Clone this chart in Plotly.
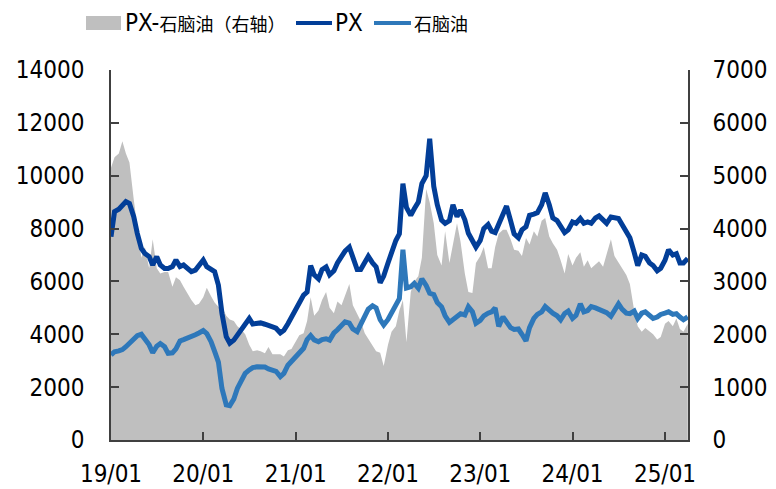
import pandas as pd
import plotly.graph_objects as go

# Semi-monthly observation dates (1st and 15th), Jan 2019 - Apr 2025
dates = pd.date_range("2019-01-01", "2025-04-01", freq="SMS")

# PX price (left axis)
px_price = [
    7690, 8640, 8730, 8850, 9020, 8950, 8450, 7820, 7250, 7060,
    6940, 6620, 6940, 6620, 6490, 6490, 6560, 6810, 6560, 6620,
    6490, 6370, 6430, 6620, 6810, 6560, 6430, 6370, 5860, 4790,
    3910, 3660, 3780, 3970, 4160, 4410, 4600, 4390, 4390, 4430,
    4380, 4330, 4300, 4230, 4050, 4150, 4400, 4650, 5000, 5170,
    5480, 5600, 6600, 6250, 6100, 6450, 6550, 6250, 6400, 6700,
    6950, 7150, 7300, 6900, 6450, 6450, 6700, 6950, 6700, 6550,
    5950, 6200, 6700, 7100, 7550, 7800, 9700, 8800, 8500, 8750,
    9000, 9700, 10000, 11400, 9600, 8900, 8320, 8200, 8300, 8900,
    8450, 8700, 8330, 7820, 7500, 7300, 7550, 8000, 8150, 7900,
    7850, 8150, 8450, 8850, 8300, 7800, 7650, 7950, 8070, 8500,
    8550, 8600, 8900, 9350, 8900, 8400, 8300, 8100, 7850, 7950,
    8250, 8200, 8380, 8200, 8250, 8200, 8400, 8480, 8300, 8200,
    8440, 8390, 8380, 8150, 7880, 7650, 7100, 6600, 7000, 6950,
    6700, 6600, 6400, 6500, 6800, 7200, 7000, 7050, 6700, 6700,
    6870,
]

# Naphtha price (left axis)
naphtha_price = [
    3215, 3340, 3370, 3420, 3530, 3650, 3800, 3950, 4000, 3850,
    3600, 3300, 3550, 3650, 3530, 3280, 3300, 3450, 3750, 3800,
    3850, 3910, 3980, 4050, 4140, 4030, 3720, 3350, 2950, 1950,
    1330, 1300, 1550, 1950, 2250, 2520, 2650, 2740, 2770, 2770,
    2760, 2690, 2660, 2600, 2400, 2520, 2830, 2980, 3150, 3310,
    3470, 3800, 3950, 3790, 3720, 3800, 3830, 3780, 4050, 4170,
    4300, 4470, 4420, 4200, 4100, 4380, 4650, 4950, 5080, 5000,
    4550, 4350, 4560, 4800, 5050, 5350, 7200, 5750, 5800, 5930,
    5750, 6100, 5850, 5550, 5500, 5200, 5040, 4700, 4450, 4550,
    4630, 4780, 4730, 5040, 4850, 4420, 4530, 4700, 4800, 4850,
    5000, 4300, 4660, 4500, 4250, 4180, 4200, 4000, 3750, 4250,
    4600, 4750, 4850, 5050, 4880, 4800, 4700, 4550, 4790, 4880,
    4600, 4720, 5150, 4850, 4900, 5050, 5000, 4950, 4920, 4820,
    4680, 4900, 5150, 4950, 4800, 4780, 4880, 4600, 4800, 4850,
    4680, 4600, 4650, 4750, 4800, 4850, 4750, 4780, 4650, 4550,
    4660,
]

# PX - naphtha spread (right axis)
spread = [
    5150, 5350, 5420, 5650, 5420, 5250, 4550, 4000, 3450, 3650,
    3250, 3800, 3250, 3150, 3180, 3180, 2900, 3080, 3020, 2900,
    2750, 2650, 2550, 2580, 2700, 2880, 2720, 2600, 2520, 2520,
    2350, 2280, 2250, 2150, 2080, 2000, 1800, 1680, 1700, 1680,
    1640, 1760, 1620, 1620, 1620, 1580, 1700, 1720, 1850, 1980,
    2020, 2250, 2700, 2350, 2450, 2650, 2800, 2500, 2400, 2620,
    2550, 2750, 2950, 2550, 2400, 2250, 2020, 1920, 1800, 1680,
    1650, 1400, 1800, 2050, 2150, 2450, 2650, 1850, 2800, 3000,
    3100, 3450, 4750, 4500, 4100, 3500, 3300, 3950, 3350, 3720,
    4100, 3750, 3150, 2800, 2780, 3350, 3480, 3650, 3250, 3250,
    3650, 3900, 3980, 3980, 3800, 3600, 3580, 3480, 3820, 3700,
    3950, 3850, 4150, 4200, 3850, 3720, 3600, 3400, 3150, 3520,
    3300, 3450, 3550, 3280, 3400, 3250, 3320, 3380, 3280, 3500,
    3800, 3480, 3350, 3250, 3120, 2950, 2450, 2150, 2050, 2120,
    2050, 2000, 1900, 1950, 2200, 2250, 2150, 2300, 2100, 2050,
    2200,
]

legend_names = ["PX-石脑油（右轴）", "PX", "石脑油"]

GRAY = "#BFBFBF"
DARK_BLUE = "#023E98"
LIGHT_BLUE = "#2E78BA"
AXIS = "#404040"
FONT = "DejaVu Sans Condensed, DejaVu Sans, Liberation Sans, sans-serif"
CJK = "Noto Sans CJK SC"

fig = go.Figure()
# Spread area sits on the base (right-hand) axis so the price lines,
# on the overlaying left axis, are drawn above it.
fig.add_trace(go.Scatter(
    x=dates, y=spread, yaxis="y", mode="lines", fill="tozeroy",
    line=dict(width=0, color=GRAY), fillcolor=GRAY, showlegend=False,
    name=legend_names[0],
))
fig.add_trace(go.Scatter(
    x=dates, y=naphtha_price, yaxis="y2", mode="lines",
    line=dict(width=5, color=LIGHT_BLUE), showlegend=False,
    name=legend_names[2],
))
fig.add_trace(go.Scatter(
    x=dates, y=px_price, yaxis="y2", mode="lines",
    line=dict(width=5, color=DARK_BLUE), showlegend=False,
    name=legend_names[1],
))

# Legend drawn along the top (pixel positions converted to paper units)
L, R, T, B = 111, 688, 70, 440
W, H = R - L, B - T


def px_x(p):
    return (p - L) / W


def px_y(p):
    return (B - p) / H


shapes = [
    dict(type="rect", xref="paper", yref="paper",
         x0=px_x(86), x1=px_x(121), y0=px_y(30), y1=px_y(16),
         fillcolor=GRAY, line=dict(width=0)),
    dict(type="line", xref="paper", yref="paper",
         x0=px_x(296), x1=px_x(332), y0=px_y(23), y1=px_y(23),
         line=dict(color=DARK_BLUE, width=4)),
    dict(type="line", xref="paper", yref="paper",
         x0=px_x(374), x1=px_x(411), y0=px_y(23), y1=px_y(23),
         line=dict(color=LIGHT_BLUE, width=4)),
]


def cjk(s):
    return f"<span style='font-family:{CJK};font-size:18px'>{s}</span>"


annotations = [
    dict(text="PX-" + cjk("石脑油（右轴）"), x=px_x(123), y=px_y(23)),
    dict(text="PX", x=px_x(333), y=px_y(23)),
    dict(text=cjk("石脑油"), x=px_x(412), y=px_y(23)),
]
for a in annotations:
    a.update(xref="paper", yref="paper", xanchor="left", yanchor="middle",
             showarrow=False, font=dict(family=FONT, size=24, color="#000000"))

axis_style = dict(
    showline=True, linecolor=AXIS, linewidth=1.5,
    ticks="inside", ticklen=8, tickcolor=AXIS, tickwidth=1.5,
    showgrid=False, zeroline=False, automargin=False,
    tickfont=dict(family=FONT, size=24, color="#000000"),
)

fig.update_layout(
    width=776, height=489,
    margin=dict(l=L, r=776 - R, t=T, b=489 - B),
    paper_bgcolor="white", plot_bgcolor="white",
    showlegend=False,
    shapes=shapes, annotations=annotations,
    xaxis=dict(
        type="date", range=["2019-01-01", "2025-04-02"],
        tick0="2019-01-01", dtick="M12", tickformat="%y/%m",
        ticklabelstandoff=11, **axis_style,
    ),
    yaxis=dict(range=[0, 7000], dtick=1000, side="right", tickformat="d",
               ticklabelstandoff=18, **axis_style),
    yaxis2=dict(range=[0, 14000], dtick=2000, overlaying="y", side="left",
                tickformat="d", ticklabelstandoff=20, **axis_style),
)

fig.write_html("out.html")
